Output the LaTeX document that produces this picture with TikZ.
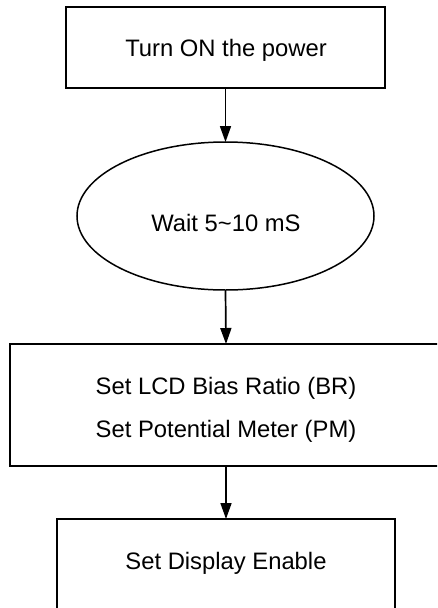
\documentclass[tikz,border=0pt]{standalone}
\usepackage{fontspec}
\setmainfont{Liberation Sans}
\usetikzlibrary{arrows.meta,shapes.geometric}
\begin{document}
\begin{tikzpicture}[x=1pt,y=-1pt,
  box/.style={draw,line width=1.6pt,rectangle,inner sep=0pt},
  oval/.style={draw,line width=1.5pt,ellipse,inner sep=0pt},
  txt/.style={font=\fontsize{23.8}{28}\selectfont,anchor=base,inner sep=0pt},
  arr/.style={-{Triangle[length=16pt,width=11pt]},line width=1.7pt,shorten >=-0.8pt}]
\useasboundingbox (0,0) rectangle (437,608);
\clip (0,0) rectangle (437,608);
\node[box,minimum width=319pt,minimum height=81pt] (a) at (225.5,47.5) {};
\node[oval,minimum width=297pt,minimum height=148pt] (b) at (225.5,216) {};
\node[box,minimum width=432pt,minimum height=122pt] (c) at (226,405) {};
\node[box,minimum width=338pt,minimum height=101pt] (d) at (226,569.5) {};
\node[txt] (ta) at (226,56) {Turn ON the power};
\node[txt] (tb) at (226,231) {Wait 5\textasciitilde 10 mS};
\node[txt] (tc1) at (226,394) {Set LCD Bias Ratio (BR)};
\node[txt] (tc2) at (226,437) {Set Potential Meter (PM)};
\node[txt] (td) at (226,569) {Set Display Enable};
\draw[arr] (a.south) -- (b.north);
\draw[arr] (b.south) -- (c.north);
\draw[arr] (c.south) -- (d.north);
\end{tikzpicture}
\end{document}
